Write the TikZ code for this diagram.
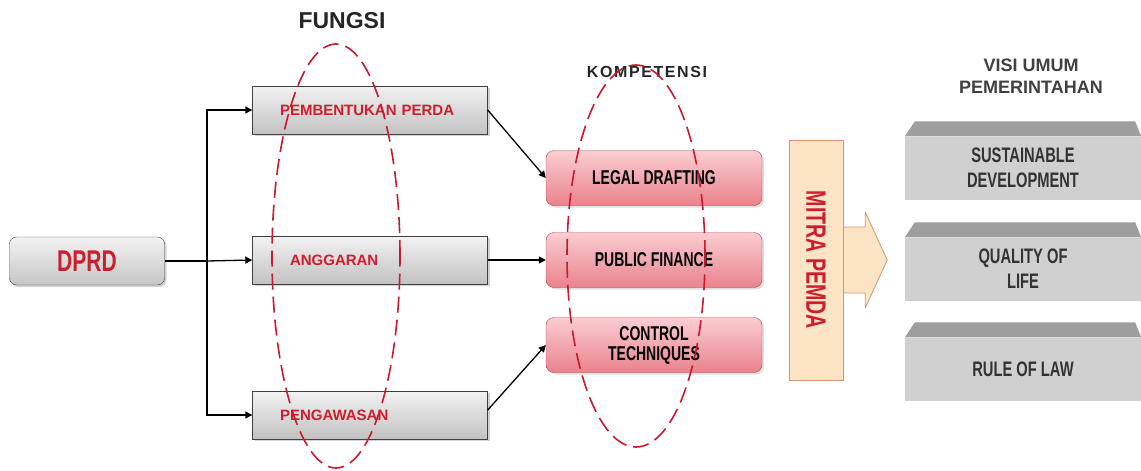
\documentclass[tikz,border=0pt]{standalone}
\usepackage{fontspec}
\setmainfont{Liberation Sans}
\newfontfamily\condfont[FakeStretch=0.7]{Liberation Sans}
\newfontfamily\spacedfont[LetterSpace=10]{Liberation Sans}
\usepackage{tikz}
\usetikzlibrary{shapes,arrows.meta,positioning,calc,backgrounds,shadows}

\definecolor{perdared}{RGB}{205,30,45}
\definecolor{dashred}{RGB}{200,25,45}
\definecolor{pinktop}{RGB}{250,205,210}
\definecolor{pinkbot}{RGB}{234,130,140}
\definecolor{pinkline}{RGB}{185,70,80}
\definecolor{peach}{RGB}{253,228,196}
\definecolor{peachline}{RGB}{215,150,110}
\definecolor{visigray}{RGB}{208,208,208}
\definecolor{visitop}{RGB}{158,158,158}

\begin{document}
\begin{tikzpicture}[
  x=1pt, y=1pt,
  dprdbox/.style={draw=black!75, top color=gray!10, bottom color=gray!45, rounded corners=7pt,
    minimum width=155pt, minimum height=48pt, text=perdared,
    font=\condfont\fontsize{30}{32}\selectfont\bfseries,
    drop shadow={shadow xshift=2pt, shadow yshift=-2pt, opacity=0.35}},
  fungsibox/.style={draw=black!75, top color=gray!10, bottom color=gray!48,
    minimum width=235pt, minimum height=48pt, text width=180pt, align=left, text=perdared,
    font=\fontsize{15}{17}\selectfont\bfseries,
    drop shadow={shadow xshift=2pt, shadow yshift=-2pt, opacity=0.35}},
  kompbox/.style={draw=pinkline, top color=pinktop, bottom color=pinkbot, rounded corners=8pt,
    minimum width=216pt, minimum height=55pt, align=center,
    font=\condfont\fontsize{20}{20}\selectfont\bfseries,
    drop shadow={shadow xshift=2pt, shadow yshift=-2pt, opacity=0.25}},
  mitrabox/.style={draw=peachline, fill=peach, minimum width=54pt, minimum height=240pt,
    text=perdared, font=\condfont\fontsize{28}{30}\selectfont\bfseries},
  mitraarrow/.style={draw=peachline, fill=peach, line width=0.8pt, line join=round},
  visibox/.style={fill=visigray, minimum width=236pt, minimum height=63pt, align=center,
    text=black!80, font=\condfont\fontsize{21}{25}\selectfont\bfseries},
  ring/.style={ellipse, draw=dashred, line width=1.6pt, dash pattern=on 16pt off 7pt},
  title/.style={font=\fontsize{23}{25}\selectfont\bfseries, text=black!85},
  arr/.style={-{Triangle[length=7pt,width=7pt]}, line width=1.3pt}
]
\useasboundingbox (0,0) rectangle (1141,-471);

% left column
\node[dprdbox]   (dprd)       at (87,-261)  {DPRD};
\coordinate      (split)      at (207,-261);
\node[fungsibox] (perda)      at (370,-110) {PEMBENTUKAN PERDA};
\node[fungsibox] (anggaran)   at (370,-260) {\hspace*{10pt}ANGGARAN};
\node[fungsibox] (pengawasan) at (370,-415) {PENGAWASAN};

% kompetensi
\node[kompbox] (legal)   at (654,-178) {LEGAL DRAFTING};
\node[kompbox] (public)  at (654,-260) {PUBLIC FINANCE};
\node[kompbox] (control) at (654,-345) {CONTROL\\TECHNIQUES};

% mitra pemda
\node[mitrabox] (mitra) at (816,-260) {\rotatebox{-90}{MITRA PEMDA}};
\begin{scope}[on background layer]
  \draw[mitraarrow] ($(mitra.east)+(-2,33)$) -- ($(mitra.east)+(22,33)$) -- ($(mitra.east)+(22,48)$)
    -- ($(mitra.east)+(44,0)$) -- ($(mitra.east)+(22,-48)$) -- ($(mitra.east)+(22,-33)$)
    -- ($(mitra.east)+(-2,-33)$);
\end{scope}

% visi umum
\node[visibox] (sust) at (1023,-168) {SUSTAINABLE\\DEVELOPMENT};
\node[visibox] (qual) at (1023,-269) {QUALITY OF\\LIFE};
\node[visibox] (rule) at (1023,-369) {RULE OF LAW};
\foreach \v in {sust,qual,rule}
  \fill[visitop] ($(\v.north west)+(10,15)$) -- ($(\v.north east)+(-6,15)$)
    -- (\v.north east) -- (\v.north west) -- cycle;

% titles
\node[title] (fungsiT) at (342,-21) {FUNGSI};
\node[font=\spacedfont\fontsize{16}{18}\selectfont\bfseries, text=black!85] (kompT) at (647,-72) {KOMPETENSI};
\node[font=\fontsize{18}{22}\selectfont\bfseries, text=black!75, align=center] (visiT) at (1031,-76)
  {VISI UMUM\\PEMERINTAHAN};

% connectors
\draw[line width=1.3pt] (dprd.east) -- (split);
\draw[arr] (split) |- (perda.west);
\draw[arr] (split) -- (anggaran.west);
\draw[arr] (split) |- (pengawasan.west);
\draw[arr] (perda.east) -- (legal.west);
\draw[arr] (anggaran.east) -- (public.west);
\draw[arr] ([yshift=5pt]pengawasan.east) -- (control.west);

% dashed groups
\node[ring, minimum width=128pt, minimum height=424pt] (fungsiRing) at (336,-256) {};
\node[ring, minimum width=138pt, minimum height=382pt] (kompRing)   at (636,-256) {};
\end{tikzpicture}
\end{document}
